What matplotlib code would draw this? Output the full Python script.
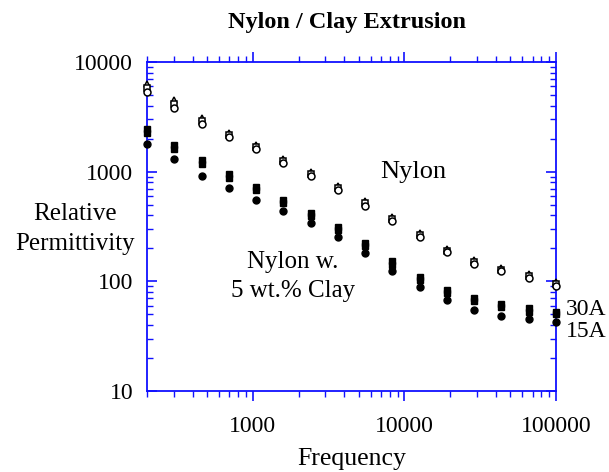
import matplotlib
matplotlib.use("Agg")
import matplotlib.pyplot as plt   # type: ignore
from matplotlib.ticker import LogLocator, NullFormatter, FixedLocator, FixedFormatter   # type: ignore

plt.rcParams["font.family"] = ["Liberation Serif", "DejaVu Serif"]

# frequencies (Hz)
freq = [200, 303, 458, 693, 1048, 1586, 2400, 3632, 5495, 8315,
        12581, 19037, 28805, 43586, 65950, 100000]

# neat nylon, three replicates
nylon_tri = [6300, 4500, 3100, 2250, 1760, 1300, 1000, 745, 540, 390,
             278, 198, 156, 132, 117, 98]
nylon_sq = [5800, 4100, 2900, 2150, 1680, 1240, 950, 710, 513, 371,
            265, 191, 150, 127, 112, 94]
nylon_circ = [5300, 3800, 2750, 2080, 1610, 1190, 910, 680, 490, 355,
              255, 185, 145, 123, 108, 90]

# nylon with 5 wt.% clay
clay30a_1 = [2450, 1750, 1270, 950, 730, 555, 420, 315, 222, 152,
             110, 84, 70, 62, 57, 53]
clay30a_2 = [2250, 1620, 1180, 880, 680, 515, 395, 293, 208, 142,
             102, 78, 66, 58, 53, 50]
clay15a = [1790, 1300, 914, 710, 552, 438, 341, 254, 181, 124,
           89, 68, 55, 48, 45, 42.7]

fig = plt.figure(figsize=(6.09, 4.72), dpi=100)
ax = fig.add_axes([0.2414, 0.1716, 0.6716, 0.697])

ms = 5
kw = dict(linestyle="none", clip_on=False, zorder=3)
ax.plot(freq, nylon_tri, marker="^", ms=ms, mfc="white", mec="black", mew=1.1, **kw)
ax.plot(freq, nylon_sq, marker="s", ms=ms - 0.5, mfc="white", mec="black", mew=1.1, **kw)
ax.plot(freq, nylon_circ, marker="o", ms=ms, mfc="white", mec="black", mew=1.1, **kw)
ax.plot(freq, clay30a_1, marker="s", ms=ms, color="black", **kw)
ax.plot(freq, clay30a_2, marker="s", ms=ms, color="black", **kw)
ax.plot(freq, clay15a, marker="o", ms=ms, color="black", **kw)

ax.set_xscale("log")
ax.set_yscale("log")
ax.set_xlim(200, 100000)
ax.set_ylim(10, 10000)

blue = "#1010ff"
for s in ax.spines.values():
    s.set_color(blue)
    s.set_linewidth(1.3)

ax.xaxis.set_major_locator(FixedLocator([1000, 10000, 100000]))
ax.xaxis.set_major_formatter(FixedFormatter(["1000", "10000", "100000"]))
ax.xaxis.set_minor_locator(LogLocator(base=10, subs=range(2, 10), numticks=20))
ax.xaxis.set_minor_formatter(NullFormatter())
ax.yaxis.set_major_locator(FixedLocator([10, 100, 1000, 10000]))
ax.yaxis.set_major_formatter(FixedFormatter(["10", "100", "1000", "10000"]))
ax.yaxis.set_minor_locator(LogLocator(base=10, subs=range(2, 10), numticks=20))
ax.yaxis.set_minor_formatter(NullFormatter())

ax.tick_params(axis="x", which="both", direction="out", top=True, bottom=True,
               colors=blue, labelcolor="black", labelsize=17, pad=11)
ax.tick_params(axis="y", which="both", direction="in", left=True, right=True,
               colors=blue, labelcolor="black", labelsize=17, pad=10)
ax.tick_params(which="major", length=7, width=1.2)
ax.tick_params(which="minor", length=4, width=1.0)

ax.set_xlabel("Frequency", fontsize=18.5, labelpad=8)
fig.text(0.123, 0.515, "Relative\nPermittivity", fontsize=18, ha="center",
         va="center", linespacing=1.45)
fig.text(0.5706, 0.953, "Nylon / Clay Extrusion", fontsize=17.5,
         fontweight="bold", ha="center", va="center")

ax.text(11500, 1000, "Nylon", fontsize=19, ha="center", va="center")
ax.text(1830, 150, "Nylon w.", fontsize=18, ha="center", va="center")
ax.text(1830, 81, "5 wt.% Clay", fontsize=18, ha="center", va="center")
ax.text(1.025, 0.249, "30A", transform=ax.transAxes, fontsize=17, ha="left", va="center")
ax.text(1.025, 0.182, "15A", transform=ax.transAxes, fontsize=17, ha="left", va="center")

fig.savefig("out.png", dpi=100)
